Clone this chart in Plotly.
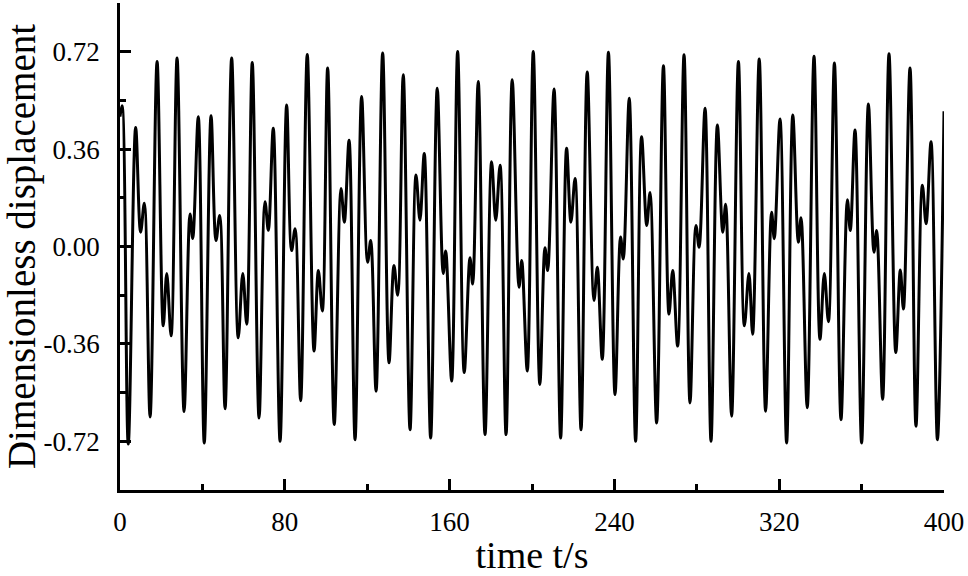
import plotly.graph_objects as go

# turning points of the response
time_s = [0, 1, 4.0, 7.6, 10.0, 11.8, 14.6, 18.0, 21.0, 22.7, 24.8, 27.7, 31.1, 34.0, 35.3, 38.0,
          40.9, 44.2, 46.6, 48.4, 51.0, 54.2, 57.4, 59.6, 61.5, 64.2, 67.5, 70.4, 72.0, 74.4, 77.7,
          80.9, 83.3, 85.0, 87.7, 90.9, 94.2, 96.3, 98.2, 100.8, 104.0, 107.3, 108.9, 111.2, 114.1,
          117.3, 120.2, 121.7, 124.3, 127.5, 130.6, 133.0, 134.8, 137.5, 140.8, 143.7, 145.6, 147.7,
          150.8, 154.0, 156.9, 158.1, 161.0, 163.9, 167.1, 169.9, 171.2, 173.9, 177.2, 180.4, 182.4,
          184.5, 187.4, 190.4, 193.7, 195.0, 197.7, 200.6, 203.8, 206.3, 207.6, 210.7, 213.9, 216.8,
          218.9, 220.9, 223.8, 226.8, 230.1, 231.7, 234.1, 237.1, 240.3, 243.0, 244.3, 247.2, 250.3,
          253.2, 255.7, 257.3, 260.5, 263.8, 266.5, 268.3, 270.7, 273.8, 276.7, 279.6, 281.1, 284.0,
          286.9, 290.0, 292.6, 294.0, 296.9, 300.2, 303.1, 305.3, 307.1, 310.3, 313.4, 316.3, 317.6,
          320.4, 323.6, 326.6, 329.3, 330.6, 333.6, 336.9, 339.8, 341.9, 343.9, 346.8, 350.0, 353.1,
          354.5, 356.8, 360.0, 363.3, 366.0, 367.3, 370.2, 373.3, 376.6, 378.8, 380.3, 383.5, 386.4,
          389.5, 391.3, 393.7, 396.8, 400.0]
displacement = [0.48, 0.52, -0.73, 0.44, 0.053, 0.16, -0.63, 0.684, -0.293, -0.10, -0.33, 0.697, -0.61,
                0.12, 0.03, 0.48, -0.726, 0.483, 0.022, 0.115, -0.60, 0.697, -0.337, -0.10, -0.287,
                0.68, -0.634, 0.165, 0.06, 0.437, -0.72, 0.523, -0.015, 0.066, -0.57, 0.71, -0.386,
                -0.089, -0.238, 0.66, -0.658, 0.214, 0.09, 0.393, -0.714, 0.554, -0.058, 0.022, -0.535,
                0.715, -0.43, -0.07, -0.18, 0.635, -0.677, 0.264, 0.097, 0.344, -0.708, 0.585, -0.10,
                -0.017, -0.497, 0.721, -0.466, -0.042, -0.139, 0.61, -0.695, 0.313, 0.097, 0.30, -0.695,
                0.616, -0.151, -0.052, -0.46, 0.721, -0.51, -0.005, -0.089, 0.582, -0.708, 0.363, 0.09,
                0.251, -0.677, 0.645, -0.20, -0.077, -0.417, 0.718, -0.547, 0.035, -0.046, 0.548, -0.72,
                0.406, 0.078, 0.20, -0.652, 0.668, -0.25, -0.089, -0.368, 0.709, -0.578, 0.078, -0.003,
                0.511, -0.72, 0.449, 0.053, 0.156, -0.627, 0.684, -0.293, -0.10, -0.324, 0.693, -0.609,
                0.127, 0.029, 0.471, -0.726, 0.486, 0.016, 0.106, -0.596, 0.703, -0.343, -0.10, -0.278,
                0.678, -0.64, 0.173, 0.059, 0.431, -0.726, 0.527, -0.021, 0.059, -0.565, 0.712, -0.392,
                -0.087, -0.231, 0.66, -0.664, 0.226, 0.084, 0.387, -0.714, 0.50]

x_ticks = [0, 80, 160, 240, 320, 400]
y_ticks = [-0.72, -0.36, 0.0, 0.36, 0.72]
y_labels = ["-0.72", "-0.36", "0.00", "0.36", "0.72"]

fig = go.Figure()
fig.add_trace(go.Scatter(x=time_s, y=displacement, mode="lines",
                         line=dict(color="black", width=3, shape="spline", smoothing=1.0),
                         showlegend=False))

serif = "Liberation Serif"

fig.update_layout(
    width=968, height=576,
    margin=dict(l=120, r=24, t=3, b=86, autoexpand=False),
    paper_bgcolor="white", plot_bgcolor="white",
    font=dict(family=serif, size=27, color="black"),
    xaxis=dict(range=[0, 400], tickvals=x_ticks, ticks="inside", ticklen=11, tickwidth=2.5,
               tickcolor="black", showline=True, linecolor="black", linewidth=2.5,
               showgrid=False, zeroline=False, ticklabelstandoff=6,
               minor=dict(ticks="inside", dtick=40, tick0=0, ticklen=6, tickwidth=2.5, tickcolor="black"),
               title=dict(text="time t/s", font=dict(family=serif, size=38), standoff=8)),
    yaxis=dict(range=[-0.9, 0.9], tickvals=y_ticks, ticktext=y_labels, ticks="inside", ticklen=11,
               tickwidth=2.5, tickcolor="black", showline=True, linecolor="black", linewidth=2.5,
               showgrid=False, zeroline=False, ticklabelstandoff=12,
               minor=dict(ticks="inside", tickvals=[-0.9, -0.54, -0.18, 0.18, 0.54, 0.9],
                          ticklen=6, tickwidth=2.5, tickcolor="black"),
               title=dict(text="Dimensionless displacement",
                          font=dict(family=serif, size=39), standoff=3)),
)

fig.write_html("out.html", config={"displayModeBar": False},
               post_script="document.body.style.margin='0';")
